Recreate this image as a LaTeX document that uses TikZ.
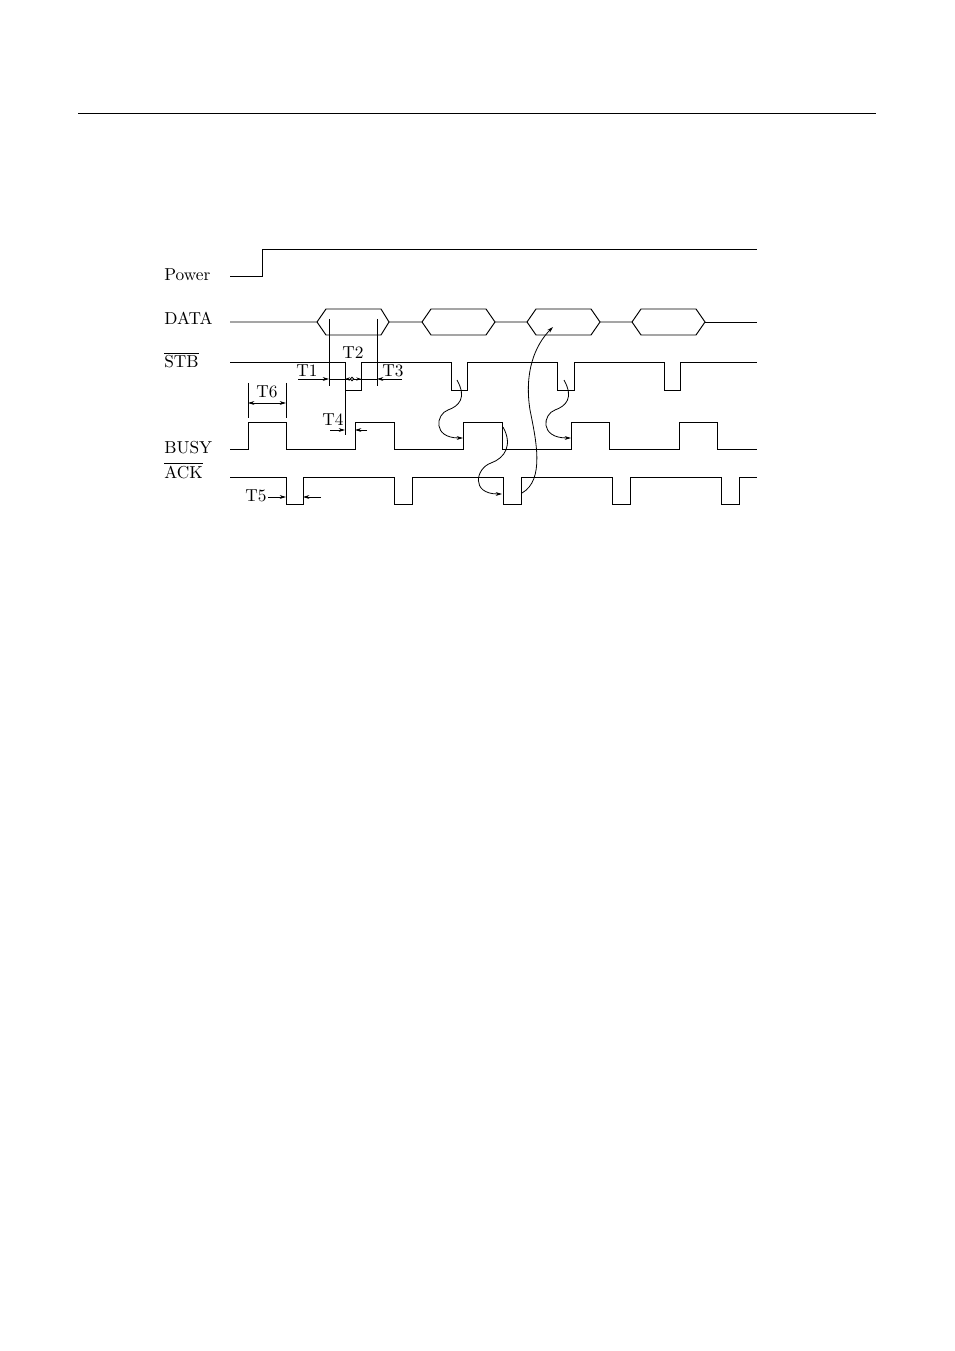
\documentclass[tikz,border=0pt]{standalone}
\usepackage{amsmath}
\usetikzlibrary{arrows.meta}

\tikzset{
  sig/.style={line width=0.6pt, line join=miter},
  thin line/.style={line width=0.5pt},
  dimarrow/.style={line width=0.5pt, -{Stealth[length=4pt,width=2.4pt]}},
  lbl/.style={inner sep=0pt, anchor=base west, font=\fontsize{10.8}{13}\selectfont},
  tlbl/.style={inner sep=0pt, anchor=base, font=\fontsize{10.8}{13}\selectfont}
}

\begin{document}
\begin{tikzpicture}[x=0.6237pt,y=-0.6237pt]
    \useasboundingbox (0,0) rectangle (954,1351);
    % rule at the top of the page
    \draw[thin line] (78,113) -- (876,113);

    % signal names
    \node[lbl] (power) at (164,281) {Power};
    \node[lbl] (data) at (164,325) {DATA};
    \node[lbl] (stb) at (164,368) {$\overline{\hbox{STB}}$};
    \node[lbl] (busy) at (164,453) {BUSY};
    \node[lbl] (ack) at (164,478) {$\overline{\hbox{ACK}}$};

    % Power
    \draw[sig] (230,276) -- (262,276) -- (262,249) -- (757,249);

    % DATA
    \draw[sig] (230,322) -- (317,322) -- (326,309) -- (381,309) -- (389,322) -- (381,335) -- (326,335) -- (317,322);
    \draw[sig] (389,322) -- (422,322) -- (431,309) -- (486,309) -- (495,322) -- (486,335) -- (431,335) -- (422,322);
    \draw[sig] (495,322) -- (527,322) -- (536,309) -- (591,309) -- (600,322) -- (591,335) -- (536,335) -- (527,322);
    \draw[sig] (600,322) -- (632,322) -- (641,309) -- (696,309) -- (705,322) -- (696,335) -- (641,335) -- (632,322);
    \draw[sig] (705,322) -- (757,322);

    % STB
    \draw[sig] (230,362) -- (345,362) -- (345,390) -- (361,390) -- (361,362)
        -- (451,362) -- (451,390) -- (467,390) -- (467,362)
        -- (557,362) -- (557,390) -- (574,390) -- (574,362)
        -- (664,362) -- (664,390) -- (680,390) -- (680,362) -- (757,362);

    % BUSY
    \draw[sig] (230,449) -- (248,449) -- (248,422) -- (286,422) -- (286,449)
        -- (355,449) -- (355,422) -- (394,422) -- (394,449)
        -- (463,449) -- (463,422) -- (502,422) -- (502,449)
        -- (571,449) -- (571,422) -- (609,422) -- (609,449)
        -- (679,449) -- (679,422) -- (717,422) -- (717,449) -- (757,449);

    % ACK
    \draw[sig] (230,477) -- (286,477) -- (286,504) -- (303,504) -- (303,477)
        -- (394,477) -- (394,504) -- (412,504) -- (412,477)
        -- (503,477) -- (503,504) -- (521,504) -- (521,477)
        -- (612,477) -- (612,504) -- (630,504) -- (630,477)
        -- (721,477) -- (721,504) -- (739,504) -- (739,477) -- (757,477);

    % T1, T2, T3
    \coordinate [] (D1) at (329,319);
    \coordinate [] (D2) at (377,319);
    \draw[thin line] (D1) -- (329,386);
    \draw[thin line] (D2) -- (377,386);
    \draw[thin line] (329,379) -- (377,379);
    \draw[dimarrow] (298,379) -- (329,379);
    \draw[dimarrow] (402,379) -- (377,379);
    \draw[dimarrow, -{Stealth[length=3pt,width=2pt]}] (351,379) -- (345,379);
    \draw[dimarrow, -{Stealth[length=3pt,width=2pt]}] (353,379) -- (361,379);
    \draw[thin line, fill=white] (352,379) circle (1.8);
    \node[tlbl] (t1) at (307,377) {T1};
    \node[tlbl] (t2) at (353,359) {T2};
    \node[tlbl] (t3) at (393,377) {T3};

    % T4
    \draw[thin line] (345,390) -- (345,435);
    \draw[dimarrow] (330,430) -- (345,430);
    \draw[dimarrow] (367,430) -- (355,430);
    \node[tlbl] (t4) at (333,426) {T4};

    % T6
    \draw[thin line] (248,383) -- (248,418);
    \draw[thin line] (286,383) -- (286,418);
    \draw[thin line, {Stealth[length=4pt,width=2.4pt]}-{Stealth[length=4pt,width=2.4pt]}] (248,403) -- (286,403);
    \node[tlbl] (t6) at (267,398) {T6};

    % T5
    \draw[dimarrow] (268,497) -- (286,497);
    \draw[dimarrow] (321,497) -- (303,497);
    \node[tlbl] (t5) at (256,501) {T5};

    % handshake curves
    \draw[dimarrow] (457,380) .. controls (467,398) and (459,406) .. (448,410) .. controls (436,414) and (432,438) .. (463,438);
    \draw[dimarrow] (564,380) .. controls (574,398) and (566,406) .. (555,410) .. controls (543,414) and (539,438) .. (571,438);
    \draw[dimarrow] (503,427) .. controls (513,445) and (505,458) .. (491,463) .. controls (476,468) and (470,494) .. (502,494);
    \draw[dimarrow] (522,493) .. controls (545,480) and (536,440) .. (530,410) .. controls (524,372) and (535,345) .. (553,327);
\end{tikzpicture}
\end{document}
